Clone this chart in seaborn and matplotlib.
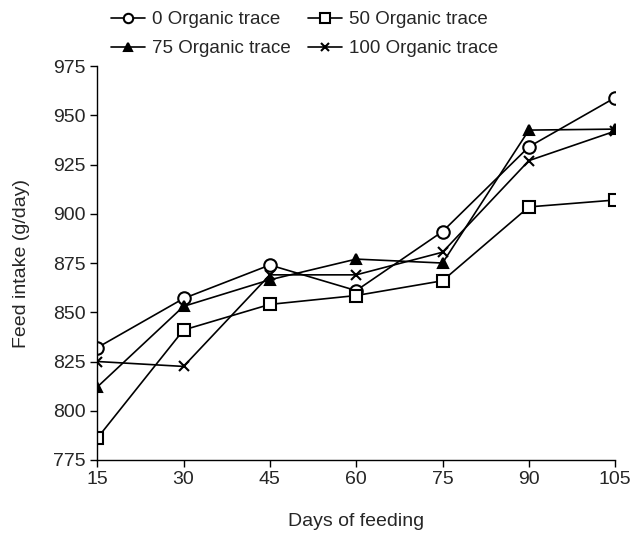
import pandas as pd
import seaborn as sns
import matplotlib.pyplot as plt

days = [15, 30, 45, 60, 75, 90, 105]
org_0 = [832, 857, 874, 861, 891, 934, 959]
org_50 = [786, 841, 854, 858.5, 866, 903.5, 907]
org_75 = [812, 853, 866.5, 877, 875, 942.5, 943]
org_100 = [825, 822.5, 869, 869, 880.5, 927, 942]

series = {
    '0 Organic trace': org_0,
    '50 Organic trace': org_50,
    '75 Organic trace': org_75,
    '100 Organic trace': org_100,
}
styles = {
    '0 Organic trace': dict(marker='o', mfc='white', ms=9),
    '50 Organic trace': dict(marker='s', mfc='white', ms=9),
    '75 Organic trace': dict(marker='^', mfc='black', ms=7),
    '100 Organic trace': dict(marker='x', mfc='black', ms=7, mew=1.5),
}

sns.set_style('ticks')
plt.rcParams['font.family'] = ['Liberation Sans', 'DejaVu Sans']

fig, ax = plt.subplots(figsize=(6.31, 5.33), dpi=100)
fig.subplots_adjust(left=0.154, right=0.975, top=0.876, bottom=0.137)

for name, vals in series.items():
    df = pd.DataFrame({'day': days, 'intake': vals})
    st = styles[name]
    sns.lineplot(data=df, x='day', y='intake', ax=ax, color='black', lw=1.2,
                 marker=st['marker'], markerfacecolor=st['mfc'], markeredgecolor='black',
                 markersize=st['ms'], markeredgewidth=st.get('mew', 1.5), label=name)

ax.set_xlim(15, 105)
ax.set_ylim(775, 975)
ax.set_xticks(days)
ax.set_yticks(range(775, 976, 25))
ax.tick_params(labelsize=14, length=5, width=1, color='black', pad=3)
ax.set_xlabel('Days of feeding', fontsize=14, labelpad=18)
ax.set_ylabel('Feed intake (g/day)', fontsize=14, labelpad=17)
sns.despine(ax=ax)
for s in ['left', 'bottom']:
    ax.spines[s].set_color('black')
    ax.spines[s].set_linewidth(1)

# row-major order: 0, 50 on top; 75, 100 below
handles, labels = ax.get_legend_handles_labels()
order = [0, 2, 1, 3]
ax.legend([handles[i] for i in order], [labels[i] for i in order],
          ncol=2, frameon=False, fontsize=13.5, loc='upper left',
          bbox_to_anchor=(0.158, 1.0), bbox_transform=fig.transFigure,
          handlelength=1.8, columnspacing=0.9, markerscale=0.75,
          handletextpad=0.4, labelspacing=0.62, borderaxespad=0.2)

plt.savefig('out.png', dpi=100)
